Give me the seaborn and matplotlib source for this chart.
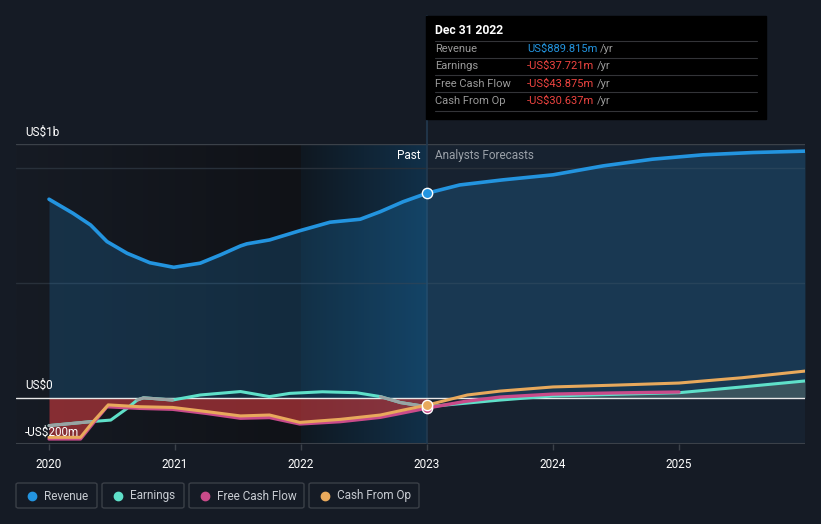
import numpy as np
import pandas as pd
import matplotlib.pyplot as plt
import seaborn as sns
from matplotlib.colors import LinearSegmentedColormap
from matplotlib.patches import FancyBboxPatch, Rectangle
from matplotlib.lines import Line2D


# -------------------------------
# Data (US$ m, decimal years)
# -------------------------------

rev_years = [2020.0, 2020.19, 2020.33, 2020.46, 2020.62, 2020.80, 2020.99, 2021.20,
             2021.36, 2021.52, 2021.57, 2021.75, 2021.99, 2022.23, 2022.47, 2022.63,
             2022.81, 2023.0, 2023.26, 2023.60, 2024.0, 2024.40, 2024.79, 2025.19,
             2025.59, 2026.0]
rev_vals = [864, 803, 752, 680, 629, 588, 568, 586, 622, 661, 670, 687, 727, 764,
            777, 810, 853, 890, 926, 948, 970, 1009, 1038, 1057, 1067, 1073]

earn_years = [2020.0, 2020.33, 2020.49, 2020.62, 2020.70, 2020.75, 2020.98, 2021.20,
              2021.52, 2021.75, 2021.91, 2022.17, 2022.44, 2022.63, 2022.79, 2023.0,
              2023.58, 2024.0, 2024.5, 2025.0, 2025.5, 2026.0]
earn_vals = [-120, -103, -96, -45, -9, 1, -9, 13, 28, 6, 20, 27, 23, 6, -20, -38,
             -9, 9, 16, 23, 48, 74]

fcf_years = [2020.0, 2020.25, 2020.35, 2020.46, 2020.72, 2020.98, 2021.25, 2021.52,
             2021.75, 2021.99, 2022.31, 2022.63, 2022.79, 2023.0, 2023.3, 2023.58,
             2024.0, 2024.5, 2025.0]
fcf_vals = [-178, -178, -110, -38, -45, -49, -67, -88, -85, -113, -103, -84, -67,
            -44, -15, 4, 17, 22, 26]

cfo_years = [2020.0, 2020.25, 2020.35, 2020.47, 2020.72, 2020.98, 2021.25, 2021.52,
             2021.75, 2021.99, 2022.31, 2022.63, 2022.79, 2023.0, 2023.32, 2023.58,
             2024.0, 2024.5, 2025.0, 2025.5, 2026.0]
cfo_vals = [-171, -171, -103, -30, -38, -41, -59, -78, -74, -106, -93, -74, -55,
            -31, 13, 30, 48, 56, 65, 88, 117]

# earnings drawn grey where it sits inside the red loss area
grey_spans = [(2020.0, 2020.33), (2020.70, 2020.98), (2022.63, 2023.0)]

year_ticks = [2020, 2021, 2022, 2023, 2024, 2025]
now_year = 2023.0

tip_rows = ["Revenue", "Earnings", "Free Cash Flow", "Cash From Op"]
tip_vals = ["US$889.815m", "-US$37.721m", "-US$43.875m", "-US$30.637m"]

legend_names = ["Revenue", "Earnings", "Free Cash Flow", "Cash From Op"]

# -------------------------------
# Style
# -------------------------------

BG = "#151b25"
C_REV = "#2394df"
C_EARN = "#5fe0c9"
C_FCF = "#c94b8a"
C_CFO = "#e8a95c"
colors = [C_REV, C_EARN, C_FCF, C_CFO]

sns.set_theme(style="dark")
plt.rcParams["font.family"] = ["Roboto", "DejaVu Sans"]
plt.rcParams["lines.solid_joinstyle"] = "round"
plt.rcParams["lines.solid_capstyle"] = "round"

W, H = 821, 524
fig = plt.figure(figsize=(W / 100, H / 100), dpi=100, facecolor=BG)


def fx(x):
    return x / W


def fy(y):
    return 1 - y / H


ax = fig.add_axes([fx(16), fy(444), fx(805) - fx(16), fy(144) - fy(444)])
ax.set_facecolor(BG)
for s in ax.spines.values():
    s.set_visible(False)

x0, x1 = 2019.738, 2026.0
y0, y1 = -200, 1104

# background panels
grad = np.linspace(0, 1, 256).reshape(1, -1)
cm_past = LinearSegmentedColormap.from_list("p", ["#161b24", "#101217"])
cm_year = LinearSegmentedColormap.from_list("y", ["#0f1821", "#113049"])
ax.imshow(grad, cmap=cm_past, extent=[x0, 2022.0, y0, y1], aspect="auto", zorder=0)
ax.imshow(grad, cmap=cm_year, extent=[2022.0, now_year, y0, y1], aspect="auto", zorder=0)
ax.add_patch(Rectangle((now_year, y0), x1 - now_year, y1 - y0,
                       color="#172230", zorder=0, lw=0))

# grid lines
ax.axhline(y1, color="#3b4149", lw=1, zorder=1)
ax.axhline(1000, color="#28303a", lw=1, zorder=1)
ax.axhline(500, color="#28303a", lw=1, zorder=1)
ax.axhline(y0, color="#3b4149", lw=1.5, zorder=1)
ax.axvline(now_year, color="#233a50", lw=1.2, zorder=1.5)

# fills
ax.fill_between(rev_years, 0, rev_vals, color=C_REV, alpha=0.2, lw=0, zorder=2)

fcf_past = [(x, v) for x, v in zip(fcf_years, fcf_vals) if x <= now_year]
ax.fill_between([p[0] for p in fcf_past], 0, [p[1] for p in fcf_past],
                color="#cc3a3e", alpha=0.62, lw=0, zorder=2)

earn_fc = [(x, v) for x, v in zip(earn_years, earn_vals) if x >= 2023.58]
ax.fill_between([p[0] for p in earn_fc], 0, [max(p[1], 0) for p in earn_fc],
                color="#5c6e68", alpha=0.5, lw=0, zorder=2)

ax.axhline(0, color="#e8e8e8", lw=1, zorder=3)

# lines
frames = []
for name, xs, vs in [("Revenue", rev_years, rev_vals),
                     ("Earnings", earn_years, earn_vals),
                     ("Free Cash Flow", fcf_years, fcf_vals),
                     ("Cash From Op", cfo_years, cfo_vals)]:
    frames.append(pd.DataFrame({"year": xs, "value": vs, "series": name}))
df = pd.concat(frames, ignore_index=True)

for name, col, lw in [("Earnings", C_EARN, 2.2), ("Free Cash Flow", C_FCF, 2.4),
                      ("Cash From Op", C_CFO, 2.2), ("Revenue", C_REV, 2.6)]:
    sub = df[df["series"] == name]
    sns.lineplot(data=sub, x="year", y="value", color=col, lw=lw,
                 estimator=None, sort=False, ax=ax, zorder=4)
    if name == "Earnings":
        for a, b in grey_spans:
            seg = sub[(sub["year"] >= a) & (sub["year"] <= b)]
            ax.plot(seg["year"], seg["value"], color="#9aa3a3", lw=2.2, zorder=4)

# markers at the current date
ax.scatter([now_year], [fcf_vals[fcf_years.index(now_year)]], s=55, color=C_FCF,
           edgecolor="white", lw=1, zorder=5)
ax.scatter([now_year], [cfo_vals[cfo_years.index(now_year)]], s=55, color=C_CFO,
           edgecolor="white", lw=1, zorder=6)
ax.scatter([now_year], [rev_vals[rev_years.index(now_year)]], s=55, color=C_REV,
           edgecolor="white", lw=1, zorder=6)

ax.set_xlim(x0, x1)
ax.set_ylim(y0, y1)
ax.set_xticks(year_ticks)
ax.set_xticklabels([str(y) for y in year_ticks])
ax.set_yticks([])
ax.set_xlabel("")
ax.set_ylabel("")
ax.grid(False)
ax.tick_params(axis="x", colors="#3b4149", length=4, width=1, pad=6,
               labelcolor="white", labelsize=8.5, bottom=True)

# now line from the top of the plot up to the tooltip
fig.add_artist(Line2D([fx(427), fx(427)], [fy(144), fy(16)], color="#233a50", lw=1.2))

# y labels
fig.text(fx(25), fy(132), "US$1b", color="white", fontsize=8.5, va="center")
fig.text(fx(25), fy(385), "US$0", color="white", fontsize=8.5, va="center")
fig.text(fx(25), fy(432), "-US$200m", color="white", fontsize=8.5, va="center")

fig.text(fx(420), fy(156), "Past", color="white", fontsize=8.5, va="center", ha="right")
fig.text(fx(435), fy(156), "Analysts Forecasts", color="#9aa0a8", fontsize=8.5,
         va="center")

# tooltip
fig.add_artist(Rectangle((fx(426), fy(119)), fx(766) - fx(426), fy(16) - fy(119),
                         transform=fig.transFigure, color="black", zorder=10))
fig.text(fx(435), fy(31), "Dec 31 2022", color="white", fontsize=8.7,
         fontweight="bold", va="center", zorder=11)
for i, (lab, val) in enumerate(zip(tip_rows, tip_vals)):
    yy = 49 + i * 17.3
    fig.add_artist(Line2D([fx(435), fx(757)], [fy(yy - 8.5), fy(yy - 8.5)],
                          color="#333438", lw=0.8, zorder=11))
    fig.text(fx(435), fy(yy), lab, color="#9a9a9a", fontsize=8, va="center", zorder=11)
    vc = C_REV if i == 0 else "#ee4440"
    t = fig.text(fx(527), fy(yy), val, color=vc, fontsize=8, va="center", zorder=11)
    fig.canvas.draw()
    bb = t.get_window_extent()
    fig.text(bb.x1 / fig.dpi / fig.get_figwidth() + fx(3), fy(yy), "/yr",
             color="#9a9a9a", fontsize=8, va="center", zorder=11)
fig.add_artist(Line2D([fx(435), fx(757)], [fy(111), fy(111)],
                      color="#333438", lw=0.8, zorder=11))

# legend boxes
boxes = [(16, 97), (102, 184), (189, 304), (309, 419)]
for (bx0, bx1), name, col in zip(boxes, legend_names, colors):
    fig.add_artist(FancyBboxPatch((fx(bx0), fy(508)), fx(bx1) - fx(bx0),
                                  fy(483) - fy(508),
                                  boxstyle="round,pad=0,rounding_size=0.003",
                                  transform=fig.transFigure, facecolor=BG,
                                  edgecolor="#3a3f47", lw=1))
    fig.add_artist(Line2D([fx(bx0 + 16)], [fy(496)], marker="o", markersize=6,
                          color=col, lw=0))
    fig.text(fx(bx0 + 28), fy(496), name, color="#c8ccd2", fontsize=8.5, va="center")

fig.savefig("out.png", dpi=100, facecolor=BG)
plt.close()
